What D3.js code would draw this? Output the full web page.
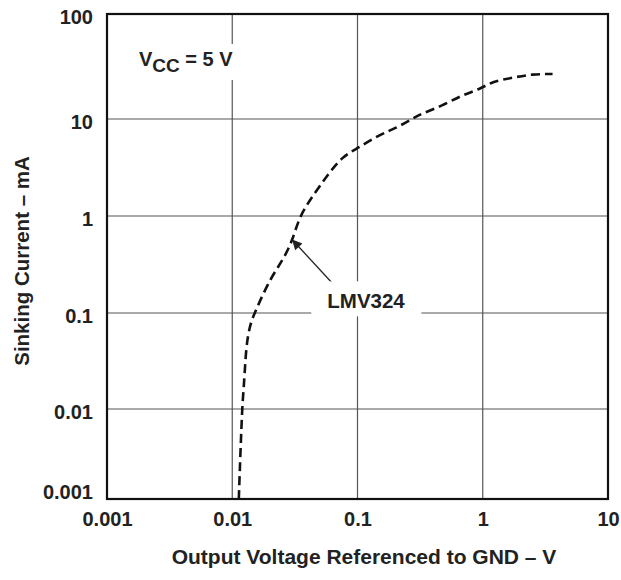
<!DOCTYPE html>
<html>
<head>
<meta charset="utf-8">
<script src="https://cdn.jsdelivr.net/npm/d3@7"></script>
<style>
  html, body { margin: 0; padding: 0; background: #fff; }
  svg text { font-family: "Liberation Sans", Arial, Helvetica, sans-serif; font-weight: bold; fill: #222; }
</style>
</head>
<body>
<div id="chart"></div>
<script>
// output voltage (V) vs sinking current (mA), LMV324 at Vcc = 5 V
const voltage = [0.01128, 0.01164, 0.01201, 0.01214, 0.01253, 0.01292, 0.01373, 0.0150,
  0.0204, 0.0253, 0.0304, 0.0343, 0.0463, 0.0591, 0.0754, 0.1, 0.148,
  0.201, 0.272, 0.327, 0.472, 0.68, 0.953, 1.18, 1.72, 2.49, 3.61];
const current = [0.001, 0.0035, 0.01, 0.0124, 0.0219, 0.0447, 0.0718, 0.1,
  0.235, 0.349, 0.562, 1, 1.78, 2.75, 4.08, 4.99, 6.84,
  8.0, 10, 11.3, 13.3, 16.9, 19.2, 22.7, 24.7, 26.8, 26.8];

const xTicks = [0.001, 0.01, 0.1, 1, 10];
const xTickLabels = ["0.001", "0.01", "0.1", "1", "10"];
const yTicks = [0.001, 0.01, 0.1, 1, 10, 100];
const yTickLabels = ["0.001", "0.01", "0.1", "1", "10", "100"];

const seriesName = "LMV324";
const labelAt = [0.117, 0.133];   // V, mA
const arrowFrom = [0.066, 0.19];
const arrowTo = [0.0304, 0.562];

const W = 621, H = 580;
const plot = {left: 107, right: 608, top: 14, bottom: 499};

const x = d3.scaleLog().domain([0.001, 10]).range([plot.left, plot.right]);
// the printed decades are not quite equal, so map each gridline
const y = d3.scaleLog()
  .domain([0.001, 0.01, 0.1, 1, 10, 100])
  .range([plot.bottom, 409, 313, 216, 119, plot.top]);

const svg = d3.select("#chart").append("svg")
  .attr("width", W).attr("height", H);

svg.append("defs").append("marker")
  .attr("id", "arrow")
  .attr("viewBox", "0 0 10 10")
  .attr("refX", 9).attr("refY", 5)
  .attr("markerWidth", 13).attr("markerHeight", 10)
  .attr("markerUnits", "userSpaceOnUse")
  .attr("orient", "auto")
  .append("path")
  .attr("d", "M0,0 L10,5 L0,10 z")
  .attr("fill", "#222");

// gridlines
const grid = svg.append("g").attr("stroke", "#555").attr("stroke-width", 1.2);
grid.selectAll("line.v").data(xTicks.slice(1, -1)).enter().append("line")
  .attr("x1", d => x(d)).attr("x2", d => x(d))
  .attr("y1", plot.top).attr("y2", plot.bottom);
grid.selectAll("line.h").data(yTicks.slice(1, -1)).enter().append("line")
  .attr("x1", plot.left).attr("x2", plot.right)
  .attr("y1", d => y(d)).attr("y2", d => y(d));

// tick labels through the axis generators, no tick marks
const xAxis = svg.append("g")
  .attr("transform", "translate(0," + plot.bottom + ")")
  .call(d3.axisBottom(x).tickValues(xTicks).tickSize(0).tickPadding(0)
    .tickFormat((d, i) => xTickLabels[i]));
xAxis.select(".domain").remove();
xAxis.attr("font-family", null).attr("font-size", null);
xAxis.selectAll("text")
  .attr("dy", null).attr("y", 27)
  .attr("font-size", 20).style("fill", "#222");

const yAxis = svg.append("g")
  .attr("transform", "translate(" + plot.left + ",0)")
  .call(d3.axisLeft(y).tickValues(yTicks).tickSize(0).tickPadding(0)
    .tickFormat((d, i) => yTickLabels[i]));
yAxis.select(".domain").remove();
yAxis.attr("font-family", null).attr("font-size", null);
yAxis.selectAll("text")
  .attr("x", -14).attr("dy", d => d === 0.001 ? "-0.05em" : "0.45em")
  .attr("font-size", 20).style("fill", "#222");

// curve
const line = d3.line()
  .x(d => x(d[0])).y(d => y(d[1]))
  .curve(d3.curveBasis);
svg.append("path")
  .datum(voltage.map((v, i) => [v, current[i]]))
  .attr("d", line)
  .attr("fill", "none")
  .attr("stroke", "#111")
  .attr("stroke-width", 2.6)
  .attr("stroke-dasharray", "9,5");

// Vcc note with white backing over the gridline
const vcc = svg.append("g");
const vccText = vcc.append("text")
  .attr("x", x(0.0018)).attr("y", y(32))
  .attr("font-size", 20);
vccText.append("tspan").text("V");
vccText.append("tspan").attr("dy", 6).attr("font-size", 19).text("CC");
vccText.append("tspan").attr("dy", -6).text(" = 5 V");
const vb = vccText.node().getBBox();
vcc.insert("rect", "text")
  .attr("x", vb.x - 4).attr("y", vb.y - 4)
  .attr("width", vb.width + 8).attr("height", vb.height + 8)
  .attr("fill", "#fff");

// series label and arrow
svg.append("line")
  .attr("x1", x(arrowFrom[0])).attr("y1", y(arrowFrom[1]))
  .attr("x2", x(arrowTo[0])).attr("y2", y(arrowTo[1]))
  .attr("stroke", "#222").attr("stroke-width", 1.3)
  .attr("marker-end", "url(#arrow)");

const lab = svg.append("g");
const labText = lab.append("text")
  .attr("x", x(labelAt[0])).attr("y", y(labelAt[1]))
  .attr("text-anchor", "middle").attr("dy", "0.36em")
  .attr("font-size", 20.5)
  .text(seriesName);
const lb = labText.node().getBBox();
lab.insert("rect", "text")
  .attr("x", lb.x - 16).attr("y", lb.y - 8)
  .attr("width", lb.width + 32).attr("height", lb.height + 12)
  .attr("fill", "#fff");

// frame
svg.append("rect")
  .attr("x", plot.left).attr("y", plot.top)
  .attr("width", plot.right - plot.left).attr("height", plot.bottom - plot.top)
  .attr("fill", "none").attr("stroke", "#111").attr("stroke-width", 2.2);

// axis titles
svg.append("text")
  .attr("x", 364).attr("y", 564)
  .attr("text-anchor", "middle").attr("font-size", 21)
  .text("Output Voltage Referenced to GND \u2013 V");

svg.append("text")
  .attr("transform", "translate(29,261) rotate(-90)")
  .attr("text-anchor", "middle").attr("font-size", 20.5)
  .text("Sinking Current \u2013 mA");
</script>
</body>
</html>
